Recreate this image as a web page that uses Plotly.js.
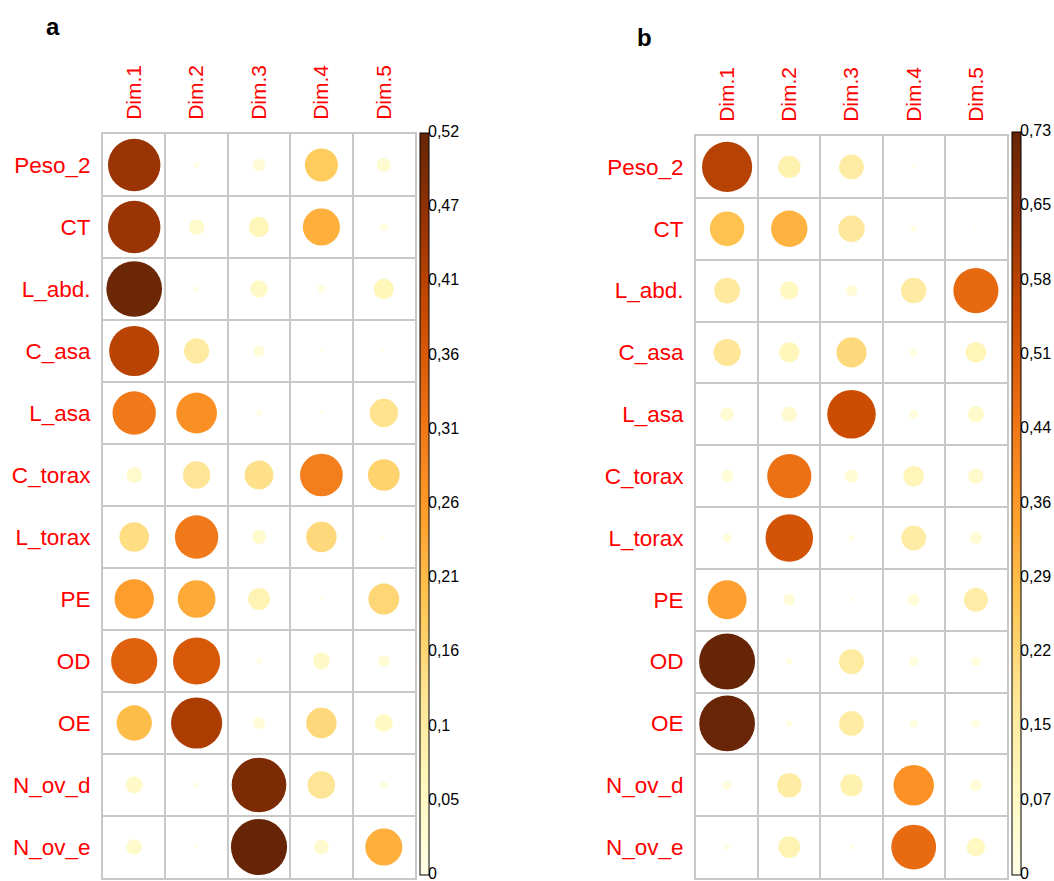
<!DOCTYPE html>
<html>
<head>
<meta charset="utf-8">
<script src="https://cdn.plot.ly/plotly-3.0.1.min.js"></script>
<style>
  html, body { margin: 0; padding: 0; background: #ffffff; }
  #chart { width: 1054px; height: 881px; }
</style>
</head>
<body>
<div id="chart"></div>
<script>
// ---- Data ----
const rowLabels = ["Peso_2", "CT", "L_abd.", "C_asa", "L_asa", "C_torax", "L_torax", "PE", "OD", "OE", "N_ov_d", "N_ov_e"];
const dimLabels = ["Dim.1", "Dim.2", "Dim.3", "Dim.4", "Dim.5"];

// Panel a
const aDim1 = [0.452, 0.452, 0.510, 0.413, 0.309, 0.040, 0.143, 0.254, 0.350, 0.205, 0.047, 0.040];
const aDim2 = [0.005, 0.040, 0.004, 0.105, 0.273, 0.123, 0.309, 0.234, 0.366, 0.430, 0.004, 0.003];
const aDim3 = [0.025, 0.068, 0.049, 0.020, 0.005, 0.136, 0.034, 0.078, 0.005, 0.023, 0.490, 0.518];
const aDim4 = [0.180, 0.226, 0.010, 0.003, 0.002, 0.300, 0.152, 0.002, 0.047, 0.152, 0.124, 0.037];
const aDim5 = [0.032, 0.011, 0.068, 0.002, 0.132, 0.165, 0.002, 0.156, 0.023, 0.052, 0.011, 0.226];
const aMax = 0.518;
const aTickLabels = ["0", "0,05", "0,1", "0,16", "0,21", "0,26", "0,31", "0,36", "0,41", "0,47", "0,52"];

// Panel b
const bDim1 = [0.583, 0.275, 0.154, 0.170, 0.042, 0.033, 0.019, 0.349, 0.726, 0.720, 0.019, 0.008];
const bDim2 = [0.117, 0.308, 0.079, 0.094, 0.053, 0.452, 0.524, 0.032, 0.009, 0.009, 0.139, 0.110];
const bDim3 = [0.142, 0.162, 0.030, 0.210, 0.545, 0.040, 0.008, 0.003, 0.146, 0.142, 0.117, 0.005];
const bDim4 = [0.003, 0.008, 0.150, 0.016, 0.021, 0.100, 0.142, 0.032, 0.021, 0.016, 0.380, 0.466];
const bDim5 = [0.002, 0.002, 0.472, 0.100, 0.062, 0.055, 0.036, 0.135, 0.019, 0.015, 0.032, 0.079];
const bMax = 0.726;
const bTickLabels = ["0", "0,07", "0,15", "0,22", "0,29", "0,36", "0,44", "0,51", "0,58", "0,65", "0,73"];

const panelTitles = ["a", "b"];

// ---- Styling / layout ----
const W = 1054, H = 881;
const FONT = "Liberation Sans, Arial, Helvetica, sans-serif";
const ylOrBr = [
  [0, "#FFFFE5"], [0.125, "#FFF7BC"], [0.25, "#FEE391"], [0.375, "#FEC44F"],
  [0.5, "#FE9929"], [0.625, "#EC7014"], [0.75, "#CC4C02"], [0.875, "#993404"], [1, "#662506"]
];

const panels = [
  { cols: [aDim1, aDim2, aDim3, aDim4, aDim5], vmax: aMax, ticks: aTickLabels,
    gx: [103, 415], gy: [134, 878], cbX: 420, cbTop: 133, cbBot: 875, titlePos: [53, 27] },
  { cols: [bDim1, bDim2, bDim3, bDim4, bDim5], vmax: bMax, ticks: bTickLabels,
    gx: [696, 1007], gy: [136, 878], cbX: 1012, cbTop: 132, cbBot: 875, titlePos: [644, 38] }
];

const traces = [];
const layout = {
  width: W, height: H,
  margin: { l: 0, r: 0, t: 0, b: 0, autoexpand: false },
  paper_bgcolor: "#ffffff", plot_bgcolor: "rgba(0,0,0,0)",
  showlegend: false,
  font: { family: FONT },
  annotations: []
};

panels.forEach((p, i) => {
  const n = i + 1;
  const xa = n === 1 ? "x" : "x" + n;
  const ya = n === 1 ? "y" : "y" + n;
  const xKey = n === 1 ? "xaxis" : "xaxis" + n;
  const yKey = n === 1 ? "yaxis" : "yaxis" + n;
  // colorbar label axes
  const cn = i + 3;
  const cxa = "x" + cn, cya = "y" + cn;
  const cellPx = (p.gx[1] - p.gx[0]) / dimLabels.length;

  const xs = [], ys = [], vals = [], sizes = [];
  p.cols.forEach((col, c) => {
    col.forEach((v, r) => {
      xs.push(dimLabels[c]);
      ys.push(rowLabels[r]);
      vals.push(v);
      sizes.push(0.9 * Math.sqrt(v / p.vmax) * cellPx);
    });
  });

  const tickVals = p.ticks.map((t, k) => k * p.vmax / (p.ticks.length - 1));

  traces.push({
    type: "scatter", mode: "markers",
    x: xs, y: ys, xaxis: xa, yaxis: ya,
    hoverinfo: "skip",
    marker: {
      size: sizes, sizemode: "diameter",
      color: vals, colorscale: ylOrBr, cmin: 0, cmax: p.vmax,
      line: { width: 0 }, opacity: 1,
      showscale: true,
      colorbar: {
        x: p.cbX / W, xanchor: "left",
        y: 1 - p.cbTop / H, yanchor: "top",
        len: p.cbBot - p.cbTop, lenmode: "pixels",
        thickness: 9, thicknessmode: "pixels",
        xpad: 0, ypad: 0,
        outlinewidth: 1, outlinecolor: "#000000",
        showticklabels: false, ticks: ""
      }
    }
  });

  // colorbar tick labels (drawn on a hidden axis matching the bar)
  traces.push({
    type: "scatter", mode: "text",
    x: tickVals.map(() => 0), y: tickVals, text: p.ticks,
    textposition: "middle right",
    textfont: { family: FONT, size: 16, color: "#000000" },
    xaxis: cxa, yaxis: cya, hoverinfo: "skip", cliponaxis: false
  });

  layout[xKey] = {
    domain: [p.gx[0] / W, p.gx[1] / W],
    anchor: ya,
    type: "category",
    categoryorder: "array", categoryarray: dimLabels,
    range: [-0.5, dimLabels.length - 0.5],
    side: "top",
    tickson: "boundaries",
    ticks: "",
    showgrid: true, gridcolor: "#C8C8C8", gridwidth: 2,
    showline: true, linecolor: "#C8C8C8", linewidth: 2, mirror: true,
    zeroline: false,
    tickangle: -90,
    tickfont: { family: FONT, size: 21, color: "#FF0000" },
    ticklabelstandoff: 8,
    automargin: false, fixedrange: true
  };
  layout[yKey] = {
    domain: [1 - p.gy[1] / H, 1 - p.gy[0] / H],
    anchor: xa,
    type: "category",
    categoryorder: "array", categoryarray: rowLabels,
    range: [rowLabels.length - 0.5, -0.5],
    tickson: "boundaries",
    ticks: "",
    showgrid: true, gridcolor: "#C8C8C8", gridwidth: 2,
    showline: true, linecolor: "#C8C8C8", linewidth: 2, mirror: true,
    zeroline: false,
    tickfont: { family: FONT, size: 22.5, color: "#FF0000" },
    ticklabelstandoff: 6,
    automargin: false, fixedrange: true
  };
  const lblLeft = p.cbX + 8;
  layout["xaxis" + cn] = {
    domain: [lblLeft / W, (lblLeft + 40) / W], anchor: cya,
    range: [0, 1], visible: false, fixedrange: true
  };
  layout["yaxis" + cn] = {
    domain: [1 - p.cbBot / H, 1 - p.cbTop / H], anchor: cxa,
    range: [0, p.vmax], visible: false, fixedrange: true
  };

  layout.annotations.push({
    xref: "paper", yref: "paper",
    x: p.titlePos[0] / W, y: 1 - p.titlePos[1] / H,
    xanchor: "center", yanchor: "middle",
    text: "<b>" + panelTitles[i] + "</b>",
    showarrow: false,
    font: { family: FONT, size: 24, color: "#000000" }
  });
});

Plotly.newPlot("chart", traces, layout, { displayModeBar: false, staticPlot: true });
</script>
</body>
</html>
